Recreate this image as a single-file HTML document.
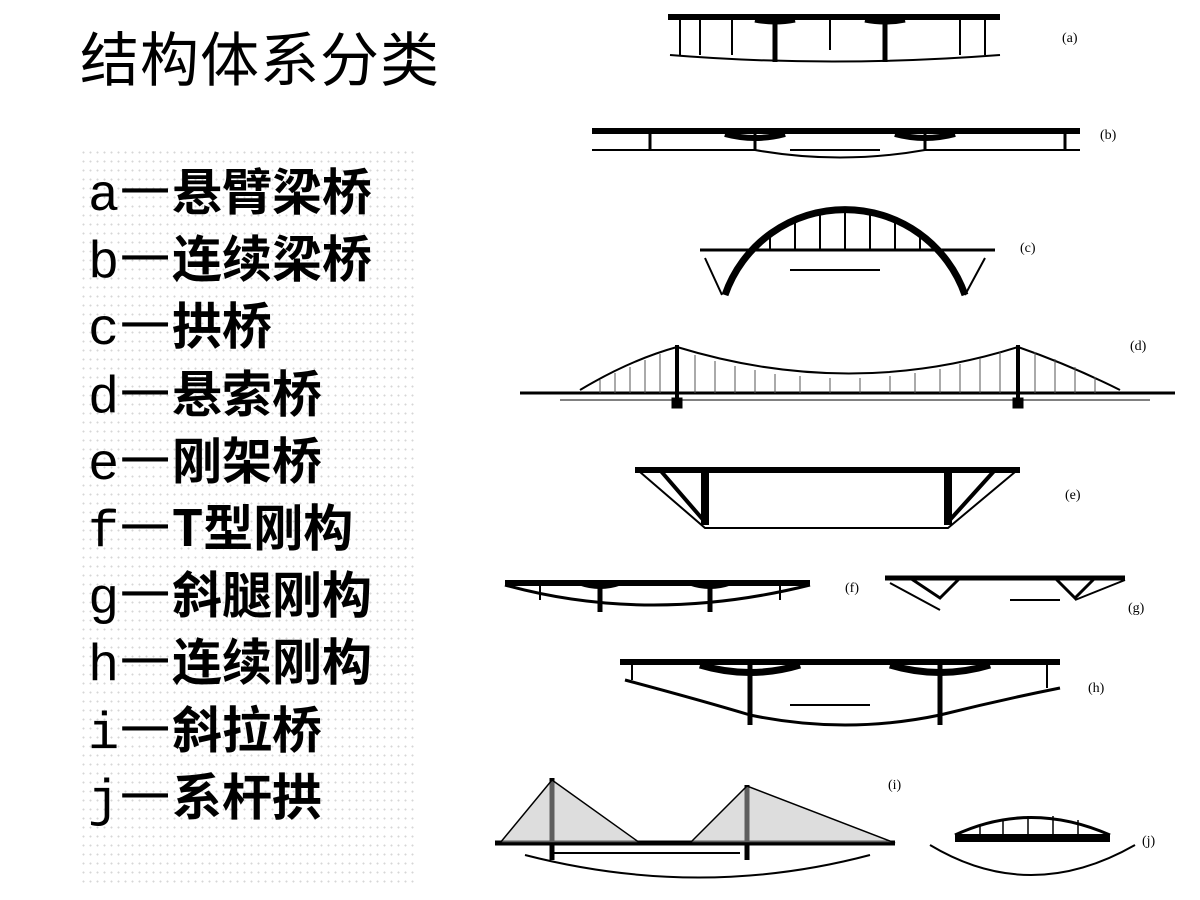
<!DOCTYPE html>
<html><head><meta charset="utf-8"><style>
body{margin:0;width:1200px;height:900px;background:#fff;overflow:hidden;position:relative;font-family:"Liberation Serif","Noto Sans CJK SC",sans-serif}
.title{position:absolute;left:80px;top:26px;font-size:59px;letter-spacing:1px;font-family:"Liberation Sans","Noto Sans CJK SC",sans-serif;line-height:70px}
.dots{position:absolute;left:80px;top:148px;width:335px;height:740px;background-image:radial-gradient(#bbb 0.8px,transparent 1px);background-size:7px 9px;opacity:.6}
.list{position:absolute;left:88px;top:156px;font-size:50px;line-height:67.2px}
.list div{white-space:nowrap;height:67.2px}
.l{display:inline-block;width:32px;font-family:"Liberation Mono",monospace;font-size:52px}
.d{display:inline-block;width:52px;font-family:"Noto Sans CJK SC",sans-serif}
.c{font-family:"Noto Sans CJK SC",sans-serif;font-weight:bold}
svg{position:absolute;left:0;top:0}
</style></head><body>
<div class="title">结构体系分类</div>
<div class="dots"></div>
<div class="list">
<div><span class="l">a</span><span class="d">一</span><span class="c">悬臂梁桥</span></div>
<div><span class="l">b</span><span class="d">一</span><span class="c">连续梁桥</span></div>
<div><span class="l">c</span><span class="d">一</span><span class="c">拱桥</span></div>
<div><span class="l">d</span><span class="d">一</span><span class="c">悬索桥</span></div>
<div><span class="l">e</span><span class="d">一</span><span class="c">刚架桥</span></div>
<div><span class="l">f</span><span class="d">一</span><span class="c">T型刚构</span></div>
<div><span class="l">g</span><span class="d">一</span><span class="c">斜腿刚构</span></div>
<div><span class="l">h</span><span class="d">一</span><span class="c">连续刚构</span></div>
<div><span class="l">i</span><span class="d">一</span><span class="c">斜拉桥</span></div>
<div><span class="l">j</span><span class="d">一</span><span class="c">系杆拱</span></div>
</div>
<svg width="1200" height="900" viewBox="0 0 1200 900" fill="none" stroke="#000">
<g font-family="Liberation Serif" font-size="14" fill="#000" stroke="none">
<text x="1062" y="42">(a)</text><text x="1100" y="139">(b)</text><text x="1020" y="252">(c)</text>
<text x="1130" y="350">(d)</text><text x="1065" y="499">(e)</text><text x="845" y="592">(f)</text>
<text x="1128" y="612">(g)</text><text x="1088" y="692">(h)</text><text x="888" y="789">(i)</text><text x="1142" y="845">(j)</text>
</g>
<!-- a -->
<path d="M668 17 H1000" stroke-width="6"/>
<path d="M680 17V55 M700 17V55 M960 17V55 M985 17V55 M732 17V55 M830 17V50" stroke-width="2"/>
<path d="M775 17V62 M885 17V62" stroke-width="5"/>
<path d="M755 20 Q775 24 795 20 M865 20 Q885 24 905 20" stroke-width="5"/>
<path d="M670 55 Q830 68 1000 55" stroke-width="2"/>
<!-- b -->
<path d="M592 131 H1080" stroke-width="6"/>
<path d="M725 134 Q755 142 785 134 M895 134 Q925 142 955 134" stroke-width="6"/>
<path d="M755 131V150 M925 131V150 M650 131V150 M1065 131V150" stroke-width="3"/>
<path d="M592 150 H755 Q840 165 925 150 H1080" stroke-width="2"/>
<path d="M790 150 H880" stroke-width="2"/>
<!-- c -->
<path d="M700 250 H995" stroke-width="3"/>
<path d="M725 295 A127 127 0 0 1 965 295" stroke-width="7"/>
<path d="M770 235V250 M795 220V250 M820 212V250 M845 210V250 M870 212V250 M895 220V250 M920 235V250" stroke-width="2"/>
<path d="M705 258 L722 295 M985 258 L965 295" stroke-width="2"/>
<path d="M790 270 H880" stroke-width="2"/>
<!-- d -->
<path d="M520 393 H1175" stroke-width="3"/>
<path d="M677 345V405 M1018 345V405" stroke-width="4"/>
<path d="M580 390 Q630 360 677 347 Q850 400 1018 347 Q1070 365 1120 390" stroke-width="2"/>
<g stroke-width="1" stroke="#555">
<path d="M600 380V393 M615 373V393 M630 367V393 M645 360V393 M660 354V393 M695 355V393 M715 361V393 M735 366V393 M755 370V393 M775 374V393 M800 376V393 M830 378V393 M860 378V393 M890 376V393 M915 373V393 M940 369V393 M960 364V393 M980 358V393 M1000 352V393 M1035 352V393 M1055 359V393 M1075 367V393 M1095 377V393"/>
</g>
<rect x="672" y="398" width="10" height="10" fill="#000"/><rect x="1013" y="398" width="10" height="10" fill="#000"/>
<path d="M560 400 H1150" stroke-width="1"/>
<!-- e -->
<path d="M635 470 H1020" stroke-width="6"/>
<path d="M705 470V525 M948 470V525" stroke-width="8"/>
<path d="M660 470 L705 522 M995 470 L948 522" stroke-width="4"/>
<path d="M640 472 L705 528 H948 L1015 472" stroke-width="2"/>
<!-- f -->
<path d="M505 583 H810" stroke-width="6"/>
<path d="M600 583V612 M710 583V612" stroke-width="5"/>
<path d="M540 583V600 M780 583V600" stroke-width="2"/>
<path d="M505 585 Q650 625 810 585" stroke-width="3"/>
<path d="M580 583 Q600 590 620 583 M690 583 Q710 590 730 583" stroke-width="5"/>
<!-- g -->
<path d="M885 578 H1125" stroke-width="5"/>
<path d="M910 578 L940 598 L960 578 M1055 578 L1075 598 L1095 578" stroke-width="3"/>
<path d="M890 583 L940 610 M1075 600 L1125 580" stroke-width="2"/>
<path d="M1010 600 H1060" stroke-width="2"/>
<!-- h -->
<path d="M620 662 H1060" stroke-width="6"/>
<path d="M700 665 Q750 680 800 665 M890 665 Q940 680 990 665" stroke-width="7"/>
<path d="M750 662V725 M940 662V725" stroke-width="5"/>
<path d="M632 665V680 M1047 665V688" stroke-width="2"/>
<path d="M625 680 Q700 700 750 715 Q845 735 940 715 Q1000 700 1060 688" stroke-width="3"/>
<path d="M790 705 H870" stroke-width="2"/>
<!-- i -->
<path d="M495 843 H895" stroke-width="5"/>
<path d="M552 778V860 M747 785V860" stroke-width="5"/>
<path d="M500 843 L552 780 L640 843 Z M690 843 L747 786 L895 843 Z" fill="#bbb" fill-opacity=".5" stroke-width="1.5"/>
<path d="M525 855 Q700 900 870 855" stroke-width="2"/>
<path d="M550 853 H740" stroke-width="2"/>
<!-- j -->
<path d="M955 838 H1110" stroke-width="8"/>
<path d="M955 835 Q1030 800 1110 835" stroke-width="3"/>
<path d="M980 826V838 M1003 819V838 M1028 816V838 M1053 816V838 M1078 820V838" stroke-width="1.5"/>
<path d="M930 845 Q1030 905 1135 845" stroke-width="2"/>
</svg>
</body></html>
